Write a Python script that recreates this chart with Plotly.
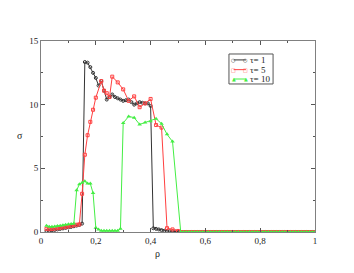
import plotly.graph_objects as go

# ---- data ----
tail_x = [0.51, 0.52, 0.53, 0.54, 0.55, 0.56, 0.57, 0.58, 0.59, 0.60,
          0.61, 0.62, 0.63, 0.64, 0.65, 0.66, 0.67, 0.68, 0.69, 0.70,
          0.71, 0.72, 0.73, 0.74, 0.75, 0.76, 0.77, 0.78, 0.79, 0.80,
          0.81, 0.82, 0.83, 0.84, 0.85, 0.86, 0.87, 0.88, 0.89, 0.90,
          0.91, 0.92, 0.93, 0.94, 0.95, 0.96, 0.97, 0.98, 0.99, 1.00]
tail_y = [0, 0, 0, 0, 0, 0, 0, 0, 0, 0,
          0, 0, 0, 0, 0, 0, 0, 0, 0, 0,
          0, 0, 0, 0, 0, 0, 0, 0, 0, 0,
          0, 0, 0, 0, 0, 0, 0, 0, 0, 0,
          0, 0, 0, 0, 0, 0, 0, 0, 0, 0]

rho_t1 = [0.02, 0.03, 0.04, 0.05, 0.06, 0.07, 0.08, 0.09, 0.10, 0.11,
          0.12, 0.13, 0.14, 0.15, 0.16, 0.17, 0.18, 0.19, 0.20, 0.21,
          0.22, 0.23, 0.24, 0.25, 0.26, 0.27, 0.28, 0.29, 0.30, 0.31,
          0.32, 0.33, 0.34, 0.35, 0.36, 0.37, 0.38, 0.39, 0.40, 0.41,
          0.42, 0.43, 0.44, 0.45, 0.46, 0.47, 0.48, 0.49, 0.50]
sig_t1 = [0.08, 0.10, 0.13, 0.16, 0.20, 0.24, 0.28, 0.32, 0.36, 0.40,
          0.45, 0.50, 0.55, 0.66, 13.35, 13.3, 12.95, 12.5, 12.1, 11.5,
          11.85, 11.1, 10.4, 10.6, 10.8, 10.6, 10.5, 10.4, 10.3, 10.35,
          10.4, 10.2, 10.0, 10.1, 10.2, 10.15, 10.1, 10.1, 9.9, 0.29,
          0.25, 0.20, 0.15, 0.10, 0.08, 0.06, 0.05, 0.04, 0.03]

rho_t5 = [0.02, 0.03, 0.04, 0.05, 0.06, 0.07, 0.08, 0.09, 0.10, 0.11,
          0.12, 0.13, 0.14, 0.15, 0.16, 0.17, 0.18, 0.19, 0.20, 0.22,
          0.23, 0.24, 0.25, 0.26, 0.28, 0.30, 0.32, 0.34, 0.36, 0.38,
          0.40, 0.42, 0.44, 0.46, 0.48, 0.50]
sig_t5 = [0.25, 0.22, 0.24, 0.27, 0.30, 0.33, 0.37, 0.40, 0.44, 0.48,
          0.52, 0.57, 0.60, 3.0, 6.07, 7.6, 8.65, 9.6, 10.55, 11.85,
          11.1, 10.9, 10.6, 12.2, 11.75, 11.2, 10.3, 10.65, 9.8, 10.1,
          10.45, 8.4, 8.2, 0.3, 0.2, 0.08]

rho_t10 = [0.02, 0.03, 0.04, 0.05, 0.06, 0.07, 0.08, 0.09, 0.10, 0.11,
           0.12, 0.13, 0.14, 0.15, 0.16, 0.17, 0.18, 0.19, 0.20, 0.21,
           0.22, 0.23, 0.24, 0.25, 0.26, 0.27, 0.28, 0.29, 0.30, 0.32,
           0.34, 0.36, 0.38, 0.40, 0.42, 0.44, 0.46, 0.48]
sig_t10 = [0.50, 0.42, 0.42, 0.44, 0.47, 0.50, 0.53, 0.57, 0.60, 0.63,
           0.66, 3.27, 3.75, 3.87, 3.98, 3.8, 3.8, 3.06, 0.34, 0.2,
           0.1, 0.1, 0.1, 0.1, 0.1, 0.1, 0.1, 0.25, 8.56, 9.08,
           8.98, 8.45, 8.6, 8.7, 8.9, 8.5, 7.67, 7.1]

series_names = ["τ= 1", "τ= 5", "τ= 10"]
series_colors = ["#333333", "#ff4040", "#44ee44"]
legend_glyphs = ["○", "□", "▲"]
x_tickvals = [0, 0.2, 0.4, 0.6, 0.8, 1]
x_ticktext = ["0", "0,2", "0,4", "0,6", "0,8", "1"]
y_tickvals = [0, 5, 10, 15]
y_ticktext = ["0", "5", "10", "15"]
x_title = "ρ"
y_title = "σ"

FONT = "Liberation Serif"

fig = go.Figure()
fig.add_trace(go.Scatter(
    x=rho_t1 + tail_x, y=sig_t1 + tail_y, name=series_names[0], mode="lines+markers",
    line=dict(color=series_colors[0], width=1),
    marker=dict(symbol="circle-open", size=3, color=series_colors[0], line=dict(width=1))))
fig.add_trace(go.Scatter(
    x=rho_t5 + tail_x, y=sig_t5 + tail_y, name=series_names[1], mode="lines+markers",
    line=dict(color=series_colors[1], width=1),
    marker=dict(symbol="square-open", size=3, color=series_colors[1], line=dict(width=1))))
fig.add_trace(go.Scatter(
    x=rho_t10 + tail_x, y=sig_t10 + tail_y, name=series_names[2], mode="lines+markers",
    line=dict(color=series_colors[2], width=1),
    marker=dict(symbol="triangle-up", size=4, color=series_colors[2])))

axis_common = dict(
    showgrid=False, zeroline=False, showline=True, mirror="allticks",
    linecolor="#808080", linewidth=1, ticks="inside", ticklen=4,
    tickcolor="#555555", tickwidth=1, automargin=False,
    tickfont=dict(family=FONT, size=9, color="#222222"),
)

fig.update_xaxes(
    range=[0, 1], tickvals=x_tickvals, ticktext=x_ticktext,
    minor=dict(ticks="inside", ticklen=2, dtick=0.1, tickcolor="#555555"),
    **axis_common)
fig.update_yaxes(
    range=[0, 15], tickvals=y_tickvals, ticktext=y_ticktext,
    minor=dict(ticks="inside", ticklen=2, dtick=2.5, tickcolor="#555555"),
    **axis_common)

# ---- hand-built legend box (xmgrace style) ----
lx0, lx1, ly_top, ly_bot = 0.686, 0.847, 0.932, 0.775
row_y = [0.901, 0.850, 0.801]
seg_x0, seg_x1, text_x = 0.703, 0.748, 0.757
shapes = [dict(type="rect", xref="paper", yref="paper", x0=lx0, x1=lx1, y0=ly_bot, y1=ly_top,
               line=dict(color="#555555", width=1), fillcolor="white", layer="above")]
annotations = []
for name, col, g, ry in zip(series_names, series_colors, legend_glyphs, row_y):
    shapes.append(dict(type="line", xref="paper", yref="paper", x0=seg_x0, x1=seg_x1,
                       y0=ry, y1=ry, line=dict(color=col, width=1), layer="above"))
    for gx in (seg_x0, seg_x1):
        annotations.append(dict(xref="paper", yref="paper", x=gx, y=ry, text=g,
                                showarrow=False, xanchor="center", yanchor="middle",
                                font=dict(family="DejaVu Sans", size=5, color=col)))
    annotations.append(dict(xref="paper", yref="paper", x=text_x, y=ry, text=name,
                            showarrow=False, xanchor="left", yanchor="middle",
                            font=dict(family=FONT, size=9, color="#222222")))

# axis titles placed like the original (x title left of centre)
annotations.append(dict(xref="paper", yref="paper", x=0.427, y=-0.110, text=x_title,
                        showarrow=False, xanchor="center", yanchor="middle",
                        font=dict(family=FONT, size=10, color="#222222")))
annotations.append(dict(xref="paper", yref="paper", x=-0.077, y=0.503, text=y_title,
                        showarrow=False, xanchor="center", yanchor="middle",
                        font=dict(family=FONT, size=10, color="#222222")))

fig.update_layout(
    width=346, height=265,
    margin=dict(l=33, r=39, t=33, b=41, autoexpand=False),
    plot_bgcolor="white", paper_bgcolor="white",
    font=dict(family=FONT, size=9, color="#222222"),
    showlegend=False,
    shapes=shapes, annotations=annotations,
)

fig.write_html("out.html")
